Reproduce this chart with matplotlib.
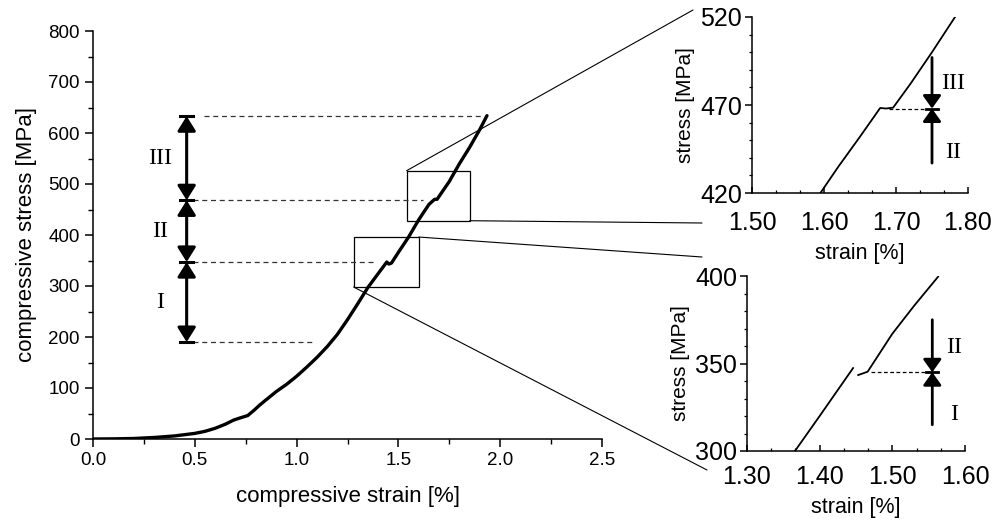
import numpy as np
import matplotlib
matplotlib.use("Agg")
import matplotlib.pyplot as plt
from matplotlib.ticker import MultipleLocator
from matplotlib.patches import Rectangle, ConnectionPatch

plt.rcParams["font.family"] = ["Liberation Sans", "DejaVu Sans"]

# full compression curve
strain = [0.0, 0.1, 0.2, 0.3, 0.4, 0.5, 0.55, 0.6, 0.65, 0.69, 0.72, 0.76,
          0.79, 0.82, 0.86, 0.9, 0.95, 1.0, 1.05, 1.1, 1.15, 1.2, 1.25, 1.3,
          1.35, 1.4, 1.443, 1.453, 1.466, 1.5, 1.55, 1.6, 1.65, 1.678, 1.69,
          1.75, 1.8, 1.85, 1.9, 1.935]
stress = [0, 0.3, 1, 3, 6, 11, 15, 21, 29, 37, 41, 46,
          56, 67, 80, 93, 107, 123, 141, 160, 181, 205, 234, 265,
          297, 324, 347, 343, 345, 366, 396, 430, 460, 470, 470,
          505, 540, 572, 607, 634]

# zoomed details
top_strain = [1.595, 1.62, 1.65, 1.678, 1.686, 1.696, 1.72, 1.75, 1.782]
top_stress = [420, 435, 452, 468.3, 468.0, 468.5, 482, 500, 520]
low_strain_a = [1.366, 1.40, 1.446]
low_stress_a = [300, 320, 347.4]
low_strain_b = [1.453, 1.466, 1.50, 1.53, 1.563]
low_stress_b = [343.4, 345.3, 367, 383, 399.6]

# stage boundaries [MPa]
bounds_main = [190, 347, 468, 633]
stage_labels = ["I", "II", "III"]
stage_x = 0.46
dash_end = [1.09, 1.39, 1.62, 1.91]
dash_start = [0.49, 0.49, 0.49, 0.545]

# zoom boxes (strain range, stress range)
box_top = (1.54, 1.85, 428, 526)
box_low = (1.28, 1.60, 298, 396)

W, H = 992, 521
fig = plt.figure(figsize=(W / 100, H / 100), dpi=100)
serif = ["Liberation Serif", "DejaVu Serif"]

def px_axes(l, r, t, b):
    return fig.add_axes([l / W, 1 - b / H, (r - l) / W, (b - t) / H])

def style(ax, fs):
    for s in ("top", "right"):
        ax.spines[s].set_visible(False)
    for s in ("left", "bottom"):
        ax.spines[s].set_linewidth(1.1)
    ax.tick_params(which="both", labelsize=fs, width=1.1)

ax = px_axes(93, 602, 31, 439)
style(ax, 13.5)
ax.plot(strain, stress, color="black", lw=2.4, solid_capstyle="round",
        solid_joinstyle="round")
ax.set_xlim(0, 2.5)
ax.set_ylim(0, 800)
ax.xaxis.set_major_locator(MultipleLocator(0.5))
ax.xaxis.set_minor_locator(MultipleLocator(0.25))
ax.yaxis.set_major_locator(MultipleLocator(100))
ax.yaxis.set_minor_locator(MultipleLocator(50))
ax.xaxis.set_major_formatter(lambda v, p: f"{v:.1f}")
ax.tick_params(which="major", length=6)
ax.tick_params(which="minor", length=3.5, width=1.0)
ax.set_xlabel("compressive strain [%]", fontsize=16, labelpad=12)
ax.set_ylabel("compressive stress [MPa]", fontsize=16, labelpad=8)

for y, x0, x1 in zip(bounds_main, dash_start, dash_end):
    ax.plot([x0, x1], [y, y], color="#333333", lw=0.9, ls=(0, (4, 3)))
    ax.plot([stage_x - 0.032, stage_x + 0.032], [y, y], color="black", lw=2.2)
for lo, hi, lab in zip(bounds_main[:-1], bounds_main[1:], stage_labels):
    ax.annotate("", xy=(stage_x, hi), xytext=(stage_x, lo),
                arrowprops=dict(arrowstyle="<|-|>,head_length=0.8,head_width=0.5",
                                mutation_scale=11, color="black", lw=2.2,
                                shrinkA=0, shrinkB=0))
    ax.text(stage_x - 0.13, (lo + hi) / 2, lab, fontsize=17, family=serif,
            ha="center", va="center")

for (x0, x1, y0, y1) in (box_top, box_low):
    ax.add_patch(Rectangle((x0, y0), x1 - x0, y1 - y0, fill=False,
                           ec="black", lw=0.9))

def connect(xy, fx, fy):
    fig.add_artist(ConnectionPatch(xyA=xy, coordsA=ax.transData,
                                   xyB=(fx / W, 1 - fy / H),
                                   coordsB="figure fraction",
                                   color="black", lw=0.8))

connect((box_top[0], box_top[3]), 693, 10)
connect((box_top[1], box_top[2]), 702, 223)
connect((box_low[1], box_low[3]), 702, 257)
connect((box_low[0], box_low[2]), 707, 470)

def inset(ax2, xs, ys, xlim, ylim, ystep, arrow_x, arrow_lo, arrow_hi, bound,
          dash_x0, labels, lab_dy, xpad):
    style(ax2, 18)
    for x, y in zip(xs, ys):
        ax2.plot(x, y, color="black", lw=1.3)
    ax2.set_xlim(*xlim)
    ax2.set_ylim(*ylim)
    ax2.xaxis.set_major_locator(MultipleLocator(0.1))
    ax2.xaxis.set_minor_locator(MultipleLocator(0.1 / 3))
    ax2.set_yticks(np.arange(ylim[0], ylim[1] + 1, ystep))
    ax2.yaxis.set_minor_locator(MultipleLocator(ystep / 5))
    ax2.xaxis.set_major_formatter(lambda v, p: f"{v:.2f}")
    ax2.tick_params(axis="x", which="both", direction="in")
    ax2.tick_params(axis="x", which="major", length=4, pad=xpad)
    ax2.tick_params(axis="y", which="major", length=5, pad=2)
    ax2.tick_params(which="minor", length=2.5, width=0.9)
    ax2.set_xlabel("strain [%]", fontsize=15.5, labelpad=6)
    ax2.set_ylabel("stress [MPa]", fontsize=15, labelpad=4)
    ax2.plot([dash_x0, arrow_x], [bound, bound], color="black", lw=0.9,
             ls=(0, (3, 2)))
    ax2.plot([arrow_x - 0.008, arrow_x + 0.008], [bound, bound],
             color="black", lw=2.0)
    for end in (arrow_hi, arrow_lo):
        ax2.annotate("", xy=(arrow_x, bound), xytext=(arrow_x, end),
                     arrowprops=dict(arrowstyle="-|>,head_length=0.7,head_width=0.5",
                                     mutation_scale=11, color="black", lw=2.0,
                                     shrinkA=0, shrinkB=0))
    ax2.text(arrow_x + 0.03, bound + lab_dy[1], labels[1], fontsize=17,
             family=serif, ha="center", va="center")
    ax2.text(arrow_x + 0.03, bound + lab_dy[0], labels[0], fontsize=17,
             family=serif, ha="center", va="center")

ax_top = px_axes(752, 968, 17, 193)
inset(ax_top, [top_strain], [top_stress], (1.5, 1.8), (420, 520), 50,
      1.75, 437, 497, 468, 1.69, ["II", "III"], (-25, 14), 13)

ax_low = px_axes(747, 965, 276, 451)
inset(ax_low, [low_strain_a, low_strain_b], [low_stress_a, low_stress_b],
      (1.3, 1.6), (300, 400), 50, 1.555, 315, 375, 345, 1.47, ["I", "II"],
      (-24, 14), 10)

fig.savefig("out.png", dpi=100)
